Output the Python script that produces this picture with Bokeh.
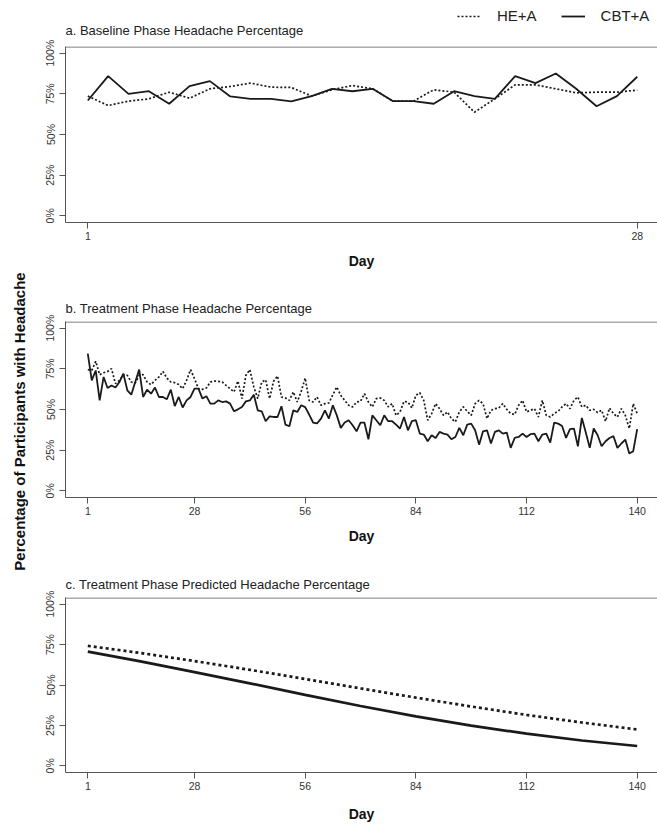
from bokeh.plotting import figure
from bokeh.models import (Range1d, FixedTicker, PrintfTickFormatter, Label, Legend,
                          LegendItem, Title, Span)
from bokeh.layouts import row, column
from bokeh.embed import file_html
from bokeh.resources import INLINE

FONT = "Liberation Sans"

# ---------------- data ----------------
days_a = list(range(1, 29))
he_a = [73.6, 67.8, 70.5, 71.9, 76.0, 72.3, 78.1, 79.5, 81.6, 79.1,
        78.9, 73.6, 77.5, 80.1, 78.1, 70.5, 70.5, 77.5, 76.0, 63.7,
        71.9, 80.5, 80.5, 78.1, 75.6, 76.0, 76.0, 77.3]
cbt_a = [70.9, 85.9, 75.0, 76.6, 68.9, 79.7, 82.8, 73.4, 71.9, 71.9,
         70.3, 73.6, 78.1, 76.6, 78.1, 70.5, 70.5, 68.9, 76.6, 73.6,
         71.9, 85.9, 81.6, 87.5, 78.1, 67.4, 73.6, 85.5]

days_b = list(range(1, 141))
he_b = [74.5, 74.0, 79.6, 71.4, 72.6, 73.4, 75.1, 65.9, 67.9, 71.4,
        71.0, 66.9, 66.3, 71.0, 71.4, 66.9, 65.3, 67.9, 70.0, 73.4,
        69.3, 66.9, 66.5, 65.3, 62.8, 67.9, 74.5, 68.9, 62.8, 62.4,
        63.2, 66.9, 67.5, 67.3, 66.9, 64.8, 62.8, 60.8, 67.5, 56.7,
        71.0, 74.5, 63.8, 56.7, 66.9, 68.3, 56.7, 67.3, 70.6, 57.7,
        57.1, 55.6, 60.8, 54.6, 61.2, 69.3, 55.6, 54.6, 57.7, 52.6,
        53.6, 54.0, 59.1, 63.8, 58.7, 55.6, 52.6, 51.6, 54.6,
        55.0, 59.7, 54.6, 51.6, 56.7, 57.1, 55.6, 51.6, 53.6, 46.4,
        48.5, 55.0, 54.6, 50.9, 58.7, 60.3, 55.6, 43.4, 47.5, 53.6,
        50.5, 46.4, 48.5, 44.4, 42.4, 48.5, 51.6, 48.9, 46.4, 53.6,
        55.6, 53.6, 44.4, 49.5, 50.5, 50.9, 53.6, 50.1, 47.5, 46.9,
        52.6, 55.6, 48.5, 49.5, 50.5, 45.4, 55.6, 46.4, 45.4, 47.5,
        48.9, 51.6, 53.6, 50.5, 55.6, 57.7, 51.6, 52.6, 49.5, 50.1,
        48.1, 49.5, 42.8, 50.9, 47.5, 45.4, 50.5, 46.4, 38.3, 53.6,
        47.5]
cbt_b = [84.3, 67.9, 74.0, 55.6, 70.0, 63.2, 64.8, 63.5, 66.9, 72.0,
         61.8, 59.1, 66.9, 74.5, 57.7, 62.2, 59.7, 63.5, 57.7, 57.7,
         56.3, 62.2, 52.1, 57.7, 51.2, 55.6, 57.7, 62.8, 62.8, 56.7,
         58.2, 53.6, 53.6, 55.6, 54.6, 55.0, 53.6, 48.9, 50.1, 51.5,
         55.0, 55.6, 59.1, 49.5, 48.9, 42.8, 45.8, 45.4, 45.4, 52.0,
         40.7, 39.7, 49.5, 48.5, 52.6, 51.5, 46.9, 42.0, 41.4, 44.4,
         49.5, 44.4, 52.6, 46.4, 38.7, 42.0, 43.4, 40.3, 36.6,
         41.9, 41.9, 31.7, 46.4, 43.4, 40.3, 46.4, 42.8, 42.8, 40.7,
         38.3, 45.4, 37.2, 42.8, 43.4, 35.2, 34.6, 30.5, 34.2, 32.5,
         36.2, 35.2, 34.6, 31.7, 33.1, 38.7, 34.2, 40.7, 41.3, 37.2,
         28.4, 36.6, 37.2, 29.1, 36.2, 37.2, 35.2, 35.8, 26.4, 32.5,
         33.1, 35.2, 33.1, 34.8, 35.2, 30.5, 34.6, 35.2, 29.7, 41.9,
         41.3, 39.9, 32.5, 37.9, 38.3, 27.4, 44.8, 35.8, 26.4, 38.3,
         34.2, 27.4, 30.5, 32.5, 33.6, 26.4, 29.1, 31.5, 22.9, 24.4,
         37.9]

days_c = [1, 14, 28, 42, 56, 70, 84, 98, 112, 126, 140]
he_c = [74.2, 69.9, 64.8, 59.4, 53.7, 47.9, 42.2, 36.7, 31.5, 26.8, 22.5]
cbt_c = [70.6, 64.8, 58.0, 51.0, 43.9, 37.0, 30.6, 24.9, 19.9, 15.7, 12.3]

pct_ticks = [0, 25, 50, 75, 100]
ticks_a = [1, 28]
ticks_bc = [1, 28, 56, 84, 112, 140]
titles = ["a. Baseline Phase Headache Percentage",
          "b. Treatment Phase Headache Percentage",
          "c. Treatment Phase Predicted Headache Percentage"]
series_names = ["HE+A", "CBT+A"]
x_title = "Day"
y_title = "Percentage of Participants with Headache"

LINE = "#1a1a1a"
AXC = "#555555"
FIG_W = 619
LEFT = 27
TOTAL_H = 829
STRIP_H = 39
Y_LO, Y_HI = -4.1, 104.1
DOT_A = dict(line_color=LINE, line_width=1.7, line_dash="2 2")
SOLID_A = dict(line_color=LINE, line_width=1.8)
TITLE_STYLE = dict(text_font=FONT, text_font_size="13px", text_font_style="normal",
                   text_color="#222222")


def panel(height, top, bottom, xr, xticks, title=None, label_standoff=10):
    p = figure(width=FIG_W, height=height, x_range=Range1d(*xr),
               y_range=Range1d(Y_LO, Y_HI), output_backend="svg",
               toolbar_location=None, title=None,
               min_border_left=LEFT, min_border_right=0,
               min_border_top=top, min_border_bottom=bottom)
    p.xgrid.visible = False
    p.ygrid.visible = False
    p.outline_line_color = None
    # top border line (the right side of the box lies beyond the picture)
    p.add_layout(Span(location=Y_HI - 0.3, dimension="width", line_color=AXC,
                      line_width=1))
    for ax in (p.xaxis[0], p.yaxis[0]):
        ax.axis_line_color = AXC
        ax.major_tick_line_color = AXC
        ax.major_tick_out = 6
        ax.major_tick_in = 0
        ax.minor_tick_line_color = None
        ax.major_label_text_font = FONT
        ax.major_label_text_font_size = "10.5px"
        ax.major_label_text_color = "#333333"
    p.yaxis.ticker = FixedTicker(ticks=pct_ticks)
    p.yaxis.formatter = PrintfTickFormatter(format="%d%%")
    p.yaxis.major_label_orientation = "vertical"
    p.yaxis.major_label_standoff = 3
    p.xaxis.ticker = FixedTicker(ticks=xticks)
    p.xaxis.major_label_standoff = 3
    p.xaxis.axis_label = x_title
    p.xaxis.axis_label_text_font = FONT
    p.xaxis.axis_label_text_font_style = "bold"
    p.xaxis.axis_label_text_font_size = "14px"
    p.xaxis.axis_label_text_color = "#111111"
    p.xaxis.axis_label_standoff = label_standoff
    if title is not None:
        p.add_layout(Title(text=title, align="left", standoff=11, **TITLE_STYLE), "above")
    return p


# top strip: legend + title of panel a (its frame is aligned with the panels' frames)
ps = figure(width=FIG_W, height=STRIP_H, x_range=Range1d(0, FIG_W - LEFT),
            y_range=Range1d(0, STRIP_H), output_backend="svg",
            toolbar_location=None, title=None,
            x_axis_location=None, y_axis_location=None, min_border=0)
ps.grid.visible = False
ps.outline_line_color = None
lg_he = ps.line(days_a, he_a, **DOT_A)      # lies outside the strip's view
lg_cbt = ps.line(days_a, cbt_a, **SOLID_A)  # only used for the legend samples
legend = Legend(items=[LegendItem(label=series_names[0], renderers=[lg_he]),
                       LegendItem(label=series_names[1], renderers=[lg_cbt])],
                orientation="horizontal", location=(392, 15),
                padding=0, margin=0, spacing=24, glyph_width=24, glyph_height=16,
                label_height=16, label_standoff=16, label_text_font=FONT,
                label_text_font_size="15px", label_text_color="#222222",
                background_fill_alpha=0, border_line_color=None)
ps.add_layout(legend, "center")
ps.add_layout(Label(x=0, y=STRIP_H - 29.5, text=titles[0], text_align="left",
                    text_baseline="middle", **TITLE_STYLE))

# panel a
pa = panel(285 - STRIP_H, 7, 63, (-0.096, 28.995), ticks_a)
pa.line(days_a, he_a, **DOT_A)
pa.line(days_a, cbt_a, **SOLID_A)

# panel b
pb = panel(275, 36, 63, (-4.642, 145.14), ticks_bc, titles[1])
pb.line(days_b, he_b, **DOT_A)
pb.line(days_b, cbt_b, **SOLID_A)

# panel c
pc = panel(269, 37, 57, (-4.642, 145.14), ticks_bc, titles[2], label_standoff=13)
pc.line(days_c, he_c, line_color=LINE, line_width=2.7, line_dash="3 3")
pc.line(days_c, cbt_c, line_color=LINE, line_width=2.7)

# shared y label
pl = figure(width=38, height=TOTAL_H, x_range=Range1d(0, 38), y_range=Range1d(0, TOTAL_H),
            output_backend="svg", toolbar_location=None, title=None,
            x_axis_location=None, y_axis_location=None, min_border=0)
pl.grid.visible = False
pl.outline_line_color = None
pl.add_layout(Label(x=18.5, y=TOTAL_H - 421, angle=90, angle_units="deg", text=y_title,
                    text_align="center", text_baseline="middle",
                    text_font=FONT, text_font_style="bold",
                    text_font_size="15px", text_color="#111111"))

layout = row(pl, column(ps, pa, pb, pc))
open("out.html", "w").write(file_html(layout, INLINE))
